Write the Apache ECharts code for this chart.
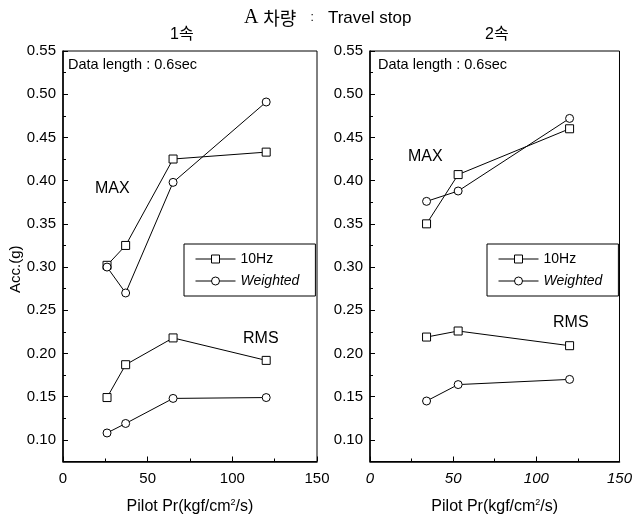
<!DOCTYPE html>
<html><head><meta charset="utf-8">
<script src="https://cdn.jsdelivr.net/npm/echarts@6/dist/echarts.min.js"></script>
<style>html,body{margin:0;padding:0;background:#fff}#c{width:635px;height:520px}</style>
</head><body><div id="c"></div><script>
// ---- data ----
const xTickValues = [0, 50, 100, 150];
const yTickValues = [0.10, 0.15, 0.20, 0.25, 0.30, 0.35, 0.40, 0.45, 0.50, 0.55];
const yMinorValues = [0.125, 0.175, 0.225, 0.275, 0.325, 0.375, 0.425, 0.475, 0.525];

// Panel 1 (1속)
const p1X = [26, 37, 65, 120];
const p1Max10Hz = [0.302, 0.325, 0.425, 0.433];
const p1MaxWeighted = [0.300, 0.270, 0.398, 0.491];
const p1Rms10Hz = [0.149, 0.187, 0.218, 0.192];
const p1RmsWeighted = [0.108, 0.119, 0.148, 0.149];

// Panel 2 (2속)
const p2X = [34, 53, 120];
const p2Max10Hz = [0.350, 0.407, 0.460];
const p2MaxWeighted = [0.376, 0.388, 0.472];
const p2Rms10Hz = [0.219, 0.226, 0.209];
const p2RmsWeighted = [0.145, 0.164, 0.170];

const legendNames = ['10Hz', 'Weighted'];
const FONT = '"Liberation Sans", Arial, Helvetica, sans-serif';

function pairs(xs, ys) { return xs.map((x, i) => [x, ys[i]]); }

function lineSeries(name, symbol, xi, xs, ys) {
  return {
    type: 'line', name: name, xAxisIndex: xi, yAxisIndex: xi * 2,
    data: pairs(xs, ys), symbol: symbol, symbolSize: 8, showSymbol: true,
    lineStyle: { color: '#000', width: 1 },
    itemStyle: { color: '#fff', borderColor: '#000', borderWidth: 1 },
    emphasis: { disabled: true }, animation: false, z: 3
  };
}

function xAxisDef(gi, italic) {
  return {
    type: 'value', gridIndex: gi, min: 0, max: 150, interval: 50,
    axisLine: { show: true, lineStyle: { color: '#000', width: 1.5 } },
    axisTick: { show: true, inside: true, length: 5, lineStyle: { color: '#000' } },
    minorTick: { show: true, splitNumber: 2, length: 3, lineStyle: { color: '#000' } },
    splitLine: { show: false },
    axisLabel: { color: '#000', fontSize: 15, fontFamily: FONT, margin: 10, fontStyle: italic ? 'italic' : 'normal' },
    name: 'Pilot Pr(kgf/cm{sup|2}/s)', nameLocation: 'middle', nameGap: 37,
    nameTextStyle: { color: '#000', fontSize: 16, fontFamily: FONT,
      rich: { sup: { fontSize: 9, verticalAlign: 'top', padding: [0, 0, 8, 0], fontFamily: FONT, color: '#000' } } }
  };
}

function yAxisMain(gi, withName) {
  const a = {
    type: 'value', gridIndex: gi, min: 0.075, max: 0.55,
    axisLine: { show: true, lineStyle: { color: '#000', width: 1.5 } },
    axisTick: { show: true, inside: true, length: 5, customValues: yTickValues, lineStyle: { color: '#000' } },
    splitLine: { show: false },
    axisLabel: { color: '#000', fontSize: 15, fontFamily: FONT, margin: 7, customValues: yTickValues,
      formatter: v => v.toFixed(2) }
  };
  if (withName) {
    a.name = 'Acc.(g)'; a.nameLocation = 'middle'; a.nameGap = 38; a.nameRotate = 90;
    a.nameTextStyle = { color: '#000', fontSize: 15, fontFamily: FONT, padding: [0, 26, 0, 0] };
  }
  return a;
}
function yAxisMinor(gi) {
  return {
    type: 'value', gridIndex: gi, min: 0.075, max: 0.55, position: 'left',
    axisLine: { show: false },
    axisTick: { show: true, inside: true, length: 3, customValues: yMinorValues, lineStyle: { color: '#000' } },
    axisLabel: { show: false }, splitLine: { show: false }
  };
}

function legendDef(left) {
  return {
    data: legendNames, left: left, top: 244, orient: 'vertical',
    itemWidth: 40, itemHeight: 10, itemGap: 8,
    padding: [8, 16, 8, 11],
    borderColor: '#000', borderWidth: 1, backgroundColor: '#fff',
    selectedMode: false,
    itemStyle: { color: '#fff', borderColor: '#000', borderWidth: 1 },
    lineStyle: { color: '#000', width: 1 },
    formatter: n => n === 'Weighted' ? '{i|' + n + '}' : n,
    textStyle: { color: '#000', fontSize: 14, fontFamily: FONT,
      rich: { i: { fontStyle: 'italic', fontSize: 14, fontFamily: FONT, color: '#000' } } }
  };
}

function txt(x, y, s, size) {
  return { type: 'text', left: x, top: y, silent: true,
    style: { text: s, fill: '#000', fontSize: size, fontFamily: FONT } };
}

const option = {
  backgroundColor: '#fff',
  animation: false,
  title: [
    { text: '{a|A} {k|차량}   {c|:}   Travel stop', left: 244, top: 8, padding: 0,
      textStyle: { fontSize: 17, fontWeight: 'normal', color: '#000', fontFamily: FONT,
        rich: { a: { fontFamily: '"Liberation Serif", serif', fontSize: 20, color: '#000' },
                k: { fontFamily: '"Noto Sans CJK KR", sans-serif', fontSize: 18, color: '#000' },
                c: { fontSize: 12, color: '#000', fontFamily: FONT } } } },
    { text: '1속', left: 170, top: 27, padding: 0,
      textStyle: { fontSize: 16, fontWeight: 'normal', color: '#000', fontFamily: FONT + ', "Noto Sans CJK KR"' } },
    { text: '2속', left: 485, top: 27, padding: 0,
      textStyle: { fontSize: 16, fontWeight: 'normal', color: '#000', fontFamily: FONT + ', "Noto Sans CJK KR"' } }
  ],
  grid: [
    { left: 63, top: 51, width: 254, height: 412, show: true, borderColor: '#000', borderWidth: 1, backgroundColor: 'transparent' },
    { left: 370, top: 51, width: 251, height: 412, show: true, borderColor: '#000', borderWidth: 1, backgroundColor: 'transparent' }
  ],
  xAxis: [xAxisDef(0, false), xAxisDef(1, true)],
  yAxis: [yAxisMain(0, true), yAxisMinor(0), yAxisMain(1, false), yAxisMinor(1)],
  legend: [legendDef(184), legendDef(487)],
  series: [
    lineSeries('10Hz', 'rect', 0, p1X, p1Max10Hz),
    lineSeries('Weighted', 'circle', 0, p1X, p1MaxWeighted),
    lineSeries('10Hz', 'rect', 0, p1X, p1Rms10Hz),
    lineSeries('Weighted', 'circle', 0, p1X, p1RmsWeighted),
    lineSeries('10Hz', 'rect', 1, p2X, p2Max10Hz),
    lineSeries('Weighted', 'circle', 1, p2X, p2MaxWeighted),
    lineSeries('10Hz', 'rect', 1, p2X, p2Rms10Hz),
    lineSeries('Weighted', 'circle', 1, p2X, p2RmsWeighted)
  ],
  graphic: [
    txt(68, 57, 'Data length : 0.6sec', 14.5),
    txt(378, 57, 'Data length : 0.6sec', 14.5),
    txt(95, 181, 'MAX', 16),
    txt(243, 331, 'RMS', 16),
    txt(408, 149, 'MAX', 16),
    txt(553, 315, 'RMS', 16)
  ]
};
const chart = echarts.init(document.getElementById('c'), null, { renderer: 'canvas' });
chart.setOption(option);
</script></body></html>
